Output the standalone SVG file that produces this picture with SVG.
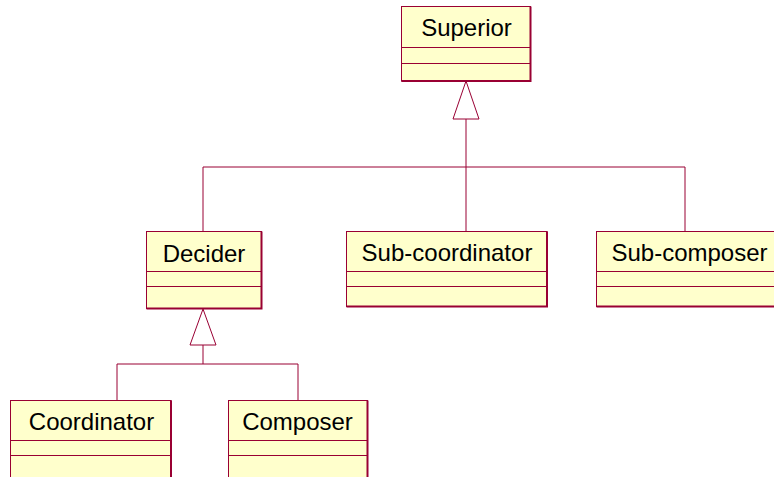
<svg xmlns="http://www.w3.org/2000/svg" width="774" height="477" viewBox="0 0 774 477">
<style>
.box{fill:#FFFFCC;stroke:#990033;stroke-width:1}
.edge{fill:none;stroke:#990033;stroke-width:2}
.div{stroke:#990033;stroke-width:1}
.lbl{font-family:"Liberation Sans",Arial,sans-serif;font-size:24px;fill:#000;text-anchor:middle}
.con{fill:none;stroke:#990033;stroke-width:1}
.tri{fill:#fff;stroke:#990033;stroke-width:1}
</style>
<rect width="774" height="477" fill="#fff"/>
<g id="connectors">
<polyline class="con" points="466,119 466,231"/>
<polyline class="con" points="203,231 203,167 685,167 685,231"/>
<polygon class="tri" points="466,81 453,119 479,119"/>
<polyline class="con" points="203,345 203,364"/>
<polyline class="con" points="117,400 117,364 298,364 298,400"/>
<polygon class="tri" points="203,309 190,345 216,345"/>
</g>
<g id="superior">
<rect class="box" x="401.5" y="6.5" width="129" height="74.5"/>
<polyline class="edge" points="530.5,6.5 530.5,81 401.5,81"/>
<line class="div" x1="401.5" y1="47.5" x2="530.5" y2="47.5"/>
<line class="div" x1="401.5" y1="63.5" x2="530.5" y2="63.5"/>
<text class="lbl" x="466.5" y="36">Superior</text>
</g>
<g id="decider">
<rect class="box" x="146.5" y="231.5" width="115" height="77"/>
<polyline class="edge" points="261.5,231.5 261.5,308.5 146.5,308.5"/>
<line class="div" x1="146.5" y1="271.5" x2="261.5" y2="271.5"/>
<line class="div" x1="146.5" y1="286.5" x2="261.5" y2="286.5"/>
<text class="lbl" x="204" y="261.5">Decider</text>
</g>
<g id="subcoordinator">
<rect class="box" x="346.5" y="231.5" width="200.5" height="75"/>
<polyline class="edge" points="547,231.5 547,306.5 346.5,306.5"/>
<line class="div" x1="346.5" y1="271.5" x2="547" y2="271.5"/>
<line class="div" x1="346.5" y1="286.5" x2="547" y2="286.5"/>
<text class="lbl" x="447" y="261">Sub-coordinator</text>
</g>
<g id="subcomposer">
<rect class="box" x="596.5" y="231.5" width="187" height="75"/>
<polyline class="edge" points="783.5,231.5 783.5,306.5 596.5,306.5"/>
<line class="div" x1="596.5" y1="271.5" x2="783.5" y2="271.5"/>
<line class="div" x1="596.5" y1="286.5" x2="783.5" y2="286.5"/>
<text class="lbl" x="689.5" y="261">Sub-composer</text>
</g>
<g id="coordinator">
<rect class="box" x="10.5" y="400.5" width="160.5" height="90"/>
<polyline class="edge" points="171,400.5 171,490"/>
<line class="div" x1="10.5" y1="440.5" x2="171" y2="440.5"/>
<line class="div" x1="10.5" y1="455.5" x2="171" y2="455.5"/>
<text class="lbl" x="91.5" y="429.5">Coordinator</text>
</g>
<g id="composer">
<rect class="box" x="228.5" y="400.5" width="139" height="90"/>
<polyline class="edge" points="367.5,400.5 367.5,490"/>
<line class="div" x1="228.5" y1="440.5" x2="367.5" y2="440.5"/>
<line class="div" x1="228.5" y1="455.5" x2="367.5" y2="455.5"/>
<text class="lbl" x="297.5" y="429.5">Composer</text>
</g>
</svg>
